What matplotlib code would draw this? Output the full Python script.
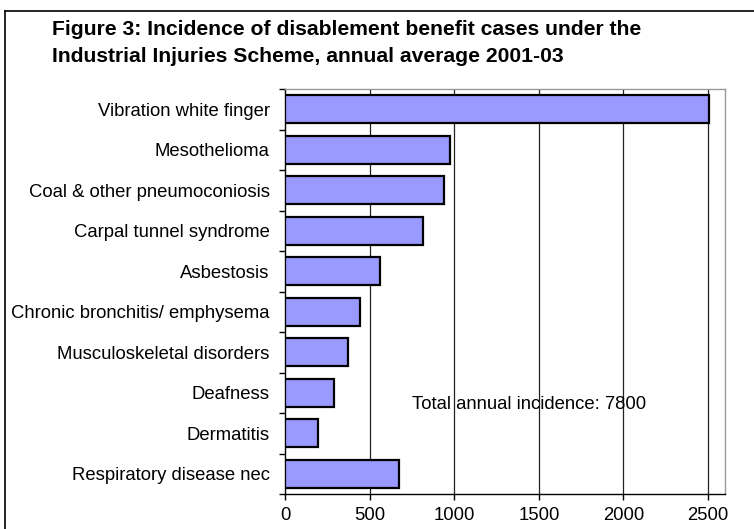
import matplotlib
matplotlib.use('Agg')
import matplotlib.pyplot as plt
from matplotlib.lines import Line2D

categories = ['Vibration white finger', 'Mesothelioma', 'Coal & other pneumoconiosis',
              'Carpal tunnel syndrome', 'Asbestosis', 'Chronic bronchitis/ emphysema',
              'Musculoskeletal disorders', 'Deafness', 'Dermatitis', 'Respiratory disease nec']
cases = [2505, 975, 940, 815, 560, 445, 375, 290, 195, 675]
x_ticks = [0, 500, 1000, 1500, 2000, 2500]
title_lines = ['Figure 3: Incidence of disablement benefit cases under the',
               'Industrial Injuries Scheme, annual average 2001-03']
note = 'Total annual incidence: 7800'

plt.rcParams['font.family'] = ['Liberation Sans', 'DejaVu Sans']

fig = plt.figure(figsize=(7.54, 5.29), dpi=100)
ax = fig.add_axes([285 / 754, 1 - 494 / 529, 440 / 754, 405 / 529])

ypos = list(range(len(categories)))
ax.barh(ypos, cases, height=0.68, color='#9999FF', edgecolor='black', linewidth=1.6, zorder=3)

ax.set_xlim(0, 2600)
ax.set_ylim(len(categories) - 0.5, -0.5)
ax.set_xticks(x_ticks)
ax.set_xticklabels([str(t) for t in x_ticks], fontsize=13.3)
ax.set_yticks(ypos)
ax.set_yticklabels(categories, fontsize=13.3)
ax.tick_params(axis='y', length=0, pad=11)
ax.set_yticks([y - 0.5 for y in ypos] + [len(categories) - 0.5], minor=True)
ax.tick_params(axis='y', which='minor', length=4, width=1, direction='out')
ax.tick_params(axis='x', length=4, width=1, direction='out', pad=5)

for t in x_ticks[1:]:
    ax.axvline(t, color='#222222', linewidth=0.9, zorder=1)

for side in ['top', 'right']:
    ax.spines[side].set_color('#999999')
    ax.spines[side].set_linewidth(1)
for side in ['left', 'bottom']:
    ax.spines[side].set_color('black')
    ax.spines[side].set_linewidth(1)

ax.text(750, 7.28, note, fontsize=13.3, va='center', ha='left', zorder=4)

# title, two lines placed by baseline
for line, base in zip(title_lines, [35, 62]):
    fig.text(52 / 754, 1 - base / 529, line, fontsize=15.2, fontweight='bold',
             va='baseline', ha='left')

# outer frame
fig.add_artist(Line2D([5 / 754, 5 / 754], [0, 1 - 11 / 529], transform=fig.transFigure,
                      color='black', linewidth=1.2))
fig.add_artist(Line2D([5 / 754, 1], [1 - 11 / 529, 1 - 11 / 529], transform=fig.transFigure,
                      color='black', linewidth=1.2))

fig.savefig('out.png', dpi=100)
